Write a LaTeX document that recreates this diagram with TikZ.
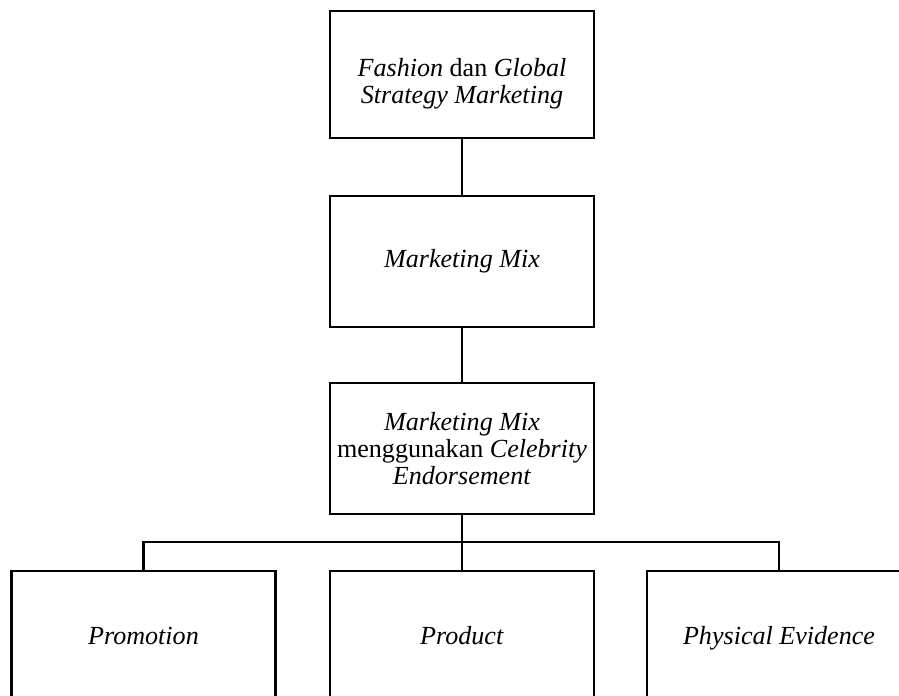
\documentclass[tikz,border=0pt]{standalone}
\usepackage{fontspec}
\setmainfont{Liberation Serif}
\begin{document}
\begin{tikzpicture}[x=0.46pt, y=-0.46pt,
        box/.style={draw, line width=1.1pt, align=center, inner sep=0pt,
            minimum width=121.5pt, font=\fontsize{12}{12.5}\selectfont},
        low/.style={box, anchor=north, text height=33.6pt, text depth=35.4pt}]
        \useasboundingbox (0,0) rectangle (899,695);
        \clip (0,0) rectangle (899,695);
        \node [box, minimum height=58.4pt] (f) at (462,74.5)
            {\rule{0pt}{16.5pt}\textit{Fashion} dan \textit{Global}\\\textit{Strategy Marketing}};
        \node [box, minimum height=60.3pt] (m) at (462,261.5) {\textit{Marketing Mix}};
        \node [box, minimum height=60.3pt] (c) at (462,448.5)
            {\textit{Marketing Mix}\\menggunakan \textit{Celebrity}\\\textit{Endorsement}};
        \node [low] (p) at (143.5,570) {\textit{Promotion}};
        \node [low] (q) at (462,570) {\textit{Product}};
        \node [low] (e) at (779,570) {\textit{Physical Evidence}};
        \coordinate (bar) at (462,542);
        \draw [line width=1.1pt] (f) -- (m) (m) -- (c) (c) -- (q);
        \draw [line width=1.1pt] (p.north) |- (bar) -| (e.north);
    \end{tikzpicture}
\end{document}
